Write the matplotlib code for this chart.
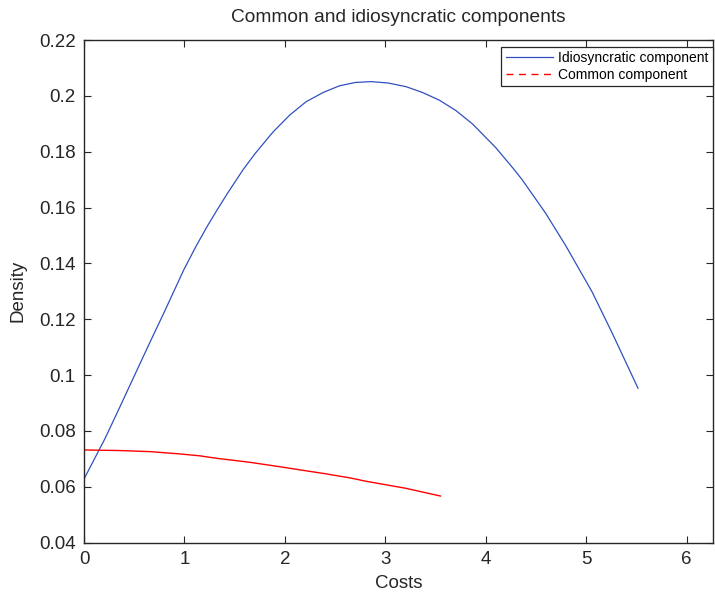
import matplotlib
matplotlib.use("Agg")
import matplotlib.pyplot as plt
from matplotlib.lines import Line2D

plt.rcParams['font.family'] = ['Liberation Sans', 'DejaVu Sans']

# Idiosyncratic component
idio_x = [0.0, 0.205, 0.331, 0.53, 0.662, 0.794, 0.993, 1.110, 1.225, 1.324, 1.423, 1.582, 1.700,
          1.880, 2.050, 2.211, 2.380, 2.542, 2.700, 2.857, 3.030, 3.205, 3.370, 3.535, 3.700,
          3.866, 4.098, 4.280, 4.363, 4.595, 4.793, 5.058, 5.256, 5.515]
idio_y = [0.0628, 0.0770, 0.0866, 0.1020, 0.1122, 0.1222, 0.1377, 0.1458, 0.1532, 0.1591, 0.1648, 0.1735, 0.1792,
          0.1870, 0.1932, 0.1979, 0.2012, 0.2036, 0.2048, 0.2051, 0.2046, 0.2033, 0.2012, 0.1985, 0.1948,
          0.1900, 0.1815, 0.1737, 0.1699, 0.1580, 0.1465, 0.1298, 0.1152, 0.0953]

# Common component
comm_x = [0.0, 0.35, 0.662, 0.95, 1.152, 1.324, 1.648, 1.986, 2.145, 2.40, 2.648, 2.807, 3.2, 3.549]
comm_y = [0.0732, 0.0730, 0.0726, 0.0718, 0.0711, 0.0702, 0.0688, 0.0670, 0.0661, 0.0647, 0.0632, 0.0620, 0.0595, 0.0567]

xticks = [0, 1, 2, 3, 4, 5, 6]
yticks = [0.04, 0.06, 0.08, 0.1, 0.12, 0.14, 0.16, 0.18, 0.2, 0.22]
ytick_labels = ['0.04', '0.06', '0.08', '0.1', '0.12', '0.14', '0.16', '0.18', '0.2', '0.22']

TXT = '#262626'
fig = plt.figure(figsize=(7.15, 5.92), dpi=100)
ax = fig.add_axes([0.1175, 0.0833, 0.8795, 0.8491])

ax.plot(idio_x, idio_y, color='#3050c0', lw=0.9)
ax.plot(comm_x, comm_y, color='#ff0000', lw=1.0)

ax.set_xlim(0, 6.26)
ax.set_ylim(0.04, 0.22)
ax.set_xticks(xticks)
ax.set_yticks(yticks)
ax.set_yticklabels(ytick_labels)
ax.tick_params(direction='in', top=True, right=True, labelsize=13.5, length=5, width=0.8,
               colors=TXT, pad=6)
for s in ax.spines.values():
    s.set_color(TXT)
    s.set_linewidth(1.0)

ax.set_title('Common and idiosyncratic components', fontsize=13.8, color=TXT, pad=13)
ax.set_xlabel('Costs', fontsize=13.5, color=TXT, labelpad=5)
ax.set_ylabel('Density', fontsize=13.5, color=TXT, labelpad=9)

handles = [Line2D([0], [0], color='#3050c0', lw=0.9),
           Line2D([0], [0], color='#ff0000', lw=1.0, ls=(0, (5, 4)))]
leg = ax.legend(handles, ['Idiosyncratic component', 'Common component'],
                loc='upper right', bbox_to_anchor=(1.0, 0.987), fontsize=10.0,
                frameon=True, fancybox=False, edgecolor=TXT, framealpha=1,
                handlelength=3.4, handletextpad=0.4, borderpad=0.3, labelspacing=0.25,
                borderaxespad=0.0)
leg.get_frame().set_linewidth(0.9)

fig.savefig('out.png', dpi=100)
